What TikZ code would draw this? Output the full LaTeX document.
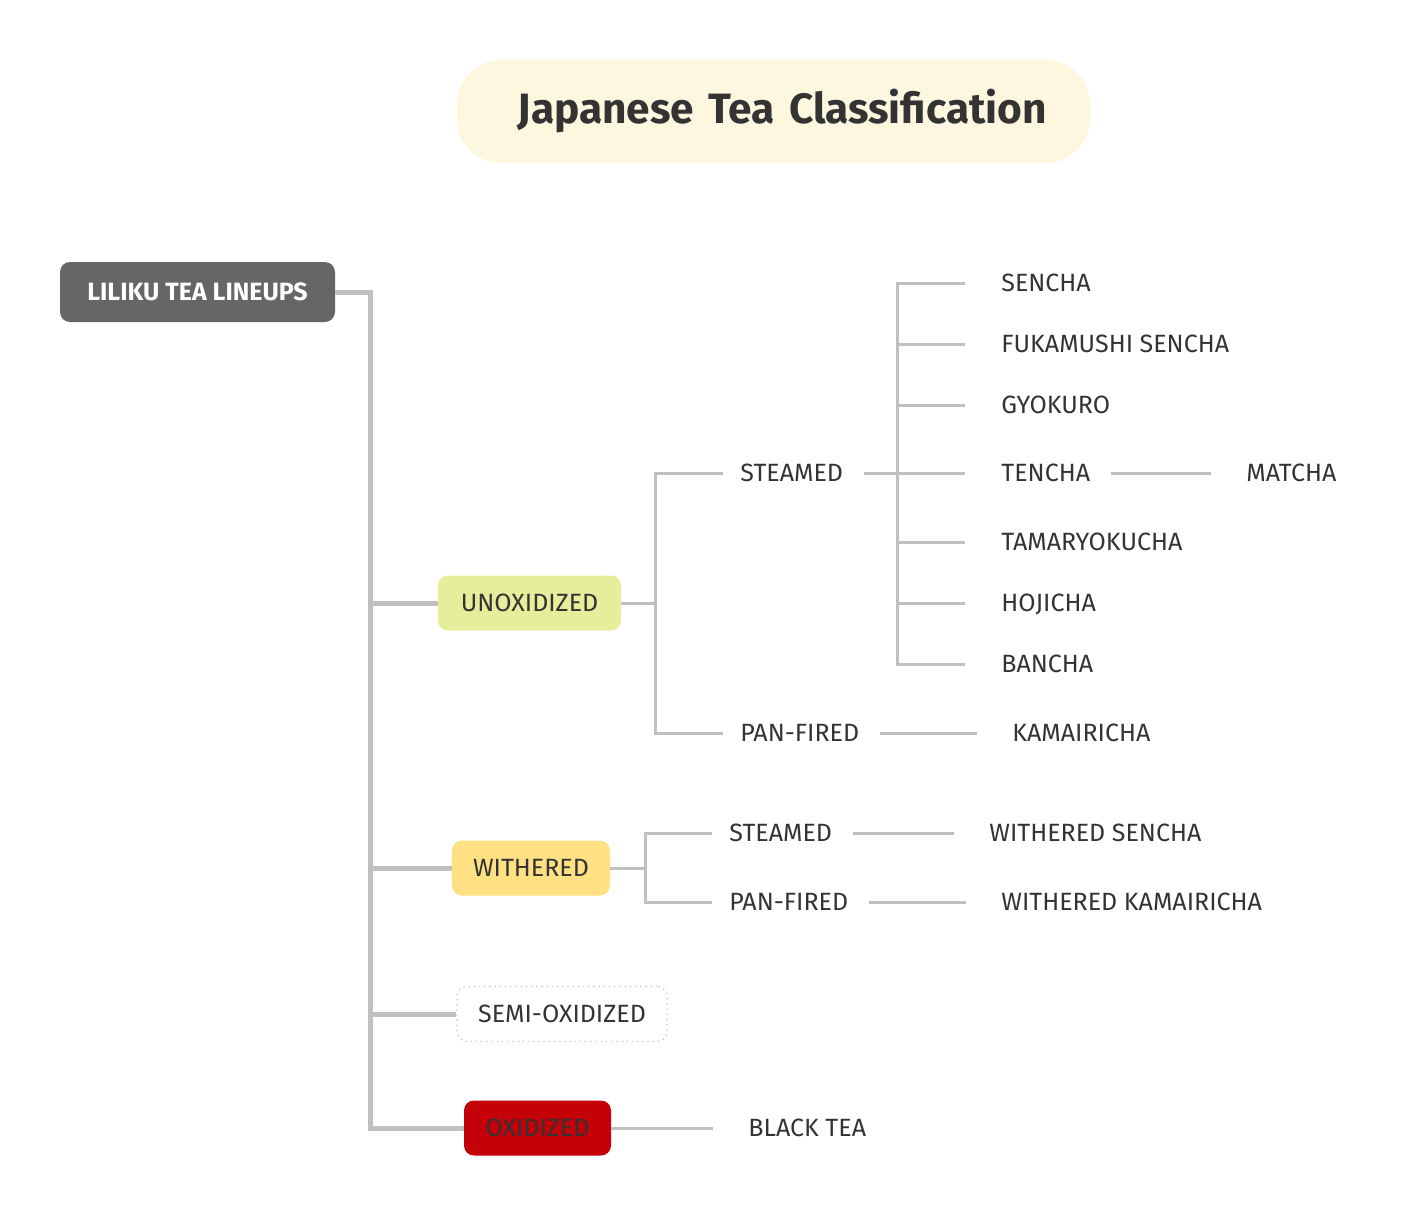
\documentclass[tikz,border=0pt]{standalone}
\usepackage{fontspec}
\setmainfont{Fira Sans}
\usetikzlibrary{positioning}
\definecolor{inkgray}{RGB}{51,51,51}
\definecolor{linegray}{RGB}{192,192,192}
\definecolor{titlebg}{RGB}{254,247,224}
\definecolor{rootgray}{RGB}{102,102,102}
\definecolor{unoxgreen}{RGB}{230,238,156}
\definecolor{withyellow}{RGB}{255,224,131}
\definecolor{oxred}{RGB}{196,0,8}
\newcommand{\teafont}{\fontsize{12.5}{14}\selectfont}
\tikzstyle{cbox}=[rectangle, rounded corners=5pt, font=\teafont,
  text=inkgray, minimum height=27.5pt, inner sep=0pt]
\tikzstyle{mid}=[font=\teafont, text=inkgray, anchor=west,
  inner xsep=8.5pt, inner ysep=0pt, text height=8.6pt, text depth=0pt]
\tikzstyle{leaf}=[font=\teafont, text=inkgray, anchor=west,
  inner sep=0pt, text height=8.6pt, text depth=0pt]
\tikzstyle{trunk}=[draw=linegray, line width=2.5pt]
\tikzstyle{br}=[draw=linegray, line width=1.5pt]

\begin{document}
\begin{tikzpicture}[x=0.5pt, y=-0.5pt]
  \useasboundingbox (0,0) rectangle (1420,1216);
  % title
  \node[rectangle, rounded corners=22pt, fill=titlebg, text=inkgray,
    text width=273.5pt, align=right, inner xsep=21.5pt,
    minimum height=51.5pt, font=\fontsize{21.2}{24}\selectfont\bfseries]
    (title) at (773.5,111.5) {Japanese Tea Classification};
  % first level
  \node[cbox, fill=rootgray, text=white, font=\teafont\bfseries,
    minimum width=137.5pt, minimum height=30pt] (root) at (197.5,292) {LILIKU TEA LINEUPS};
  \node[cbox, fill=unoxgreen, minimum width=91.5pt] (unox) at (529.5,603) {UNOXIDIZED};
  \node[cbox, fill=withyellow, minimum width=79pt] (with) at (531,868) {WITHERED};
  \node[cbox, fill=white, draw=linegray, dotted, line width=0.6pt,
    minimum width=105pt] (semi) at (562,1014) {SEMI-OXIDIZED};
  \node[cbox, fill=oxred, minimum width=73.5pt] (oxi) at (537.5,1128) {OXIDIZED};
  \coordinate (tk) at (370,0);
  \foreach \n in {unox,with,semi,oxi}
    \draw[trunk] (root.east) -| (tk |- \n.west) -- (\n.west);
  % unoxidized
  \node[mid] (steam1) at (723,473) {STEAMED};
  \node[mid] (pan1) at (723,733) {PAN-FIRED};
  \coordinate (ubus) at (655,603);
  \draw[br] (unox.east) -- (ubus);
  \draw[br] (ubus) |- (steam1.west);
  \draw[br] (ubus) |- (pan1.west);
  \node[leaf] (sencha) at (1001,283) {SENCHA};
  \node[leaf] (fuka) at (1001,344) {FUKAMUSHI SENCHA};
  \node[leaf] (gyok) at (1001,405) {GYOKURO};
  \node[leaf] (tench) at (1001,473) {TENCHA};
  \node[leaf] (tama) at (1001,542) {TAMARYOKUCHA};
  \node[leaf] (hoji) at (1001,603) {HOJICHA};
  \node[leaf] (banch) at (1001,664) {BANCHA};
  \node[leaf] (matcha) at (1246,473) {MATCHA};
  \node[leaf] (kama) at (1012,733) {KAMAIRICHA};
  \coordinate (sbus) at (897,473);
  \draw[br] ([xshift=2pt]steam1.east) -- (sbus);
  \foreach \n in {sencha,fuka,gyok,tench,tama,hoji,banch}
    \draw[br] (sbus) |- ([xshift=-18pt]\n.west);
  \draw[br] ([xshift=10pt]tench.east) -- ([xshift=-17.5pt]matcha.west);
  \draw[br] ([xshift=1.5pt]pan1.east) -- ([xshift=-17.5pt]kama.west);
  % withered
  \node[mid] (steam2) at (712,833) {STEAMED};
  \node[mid] (pan2) at (712,902) {PAN-FIRED};
  \coordinate (wbus) at (645,868);
  \draw[br] (with.east) -- (wbus);
  \draw[br] (wbus) |- (steam2.west);
  \draw[br] (wbus) |- (pan2.west);
  \node[leaf] (wsen) at (989,833) {WITHERED SENCHA};
  \node[leaf] (wkam) at (1001,902) {WITHERED KAMAIRICHA};
  \draw[br] ([xshift=2pt]steam2.east) -- ([xshift=-17.5pt]wsen.west);
  \draw[br] ([xshift=1.5pt]pan2.east) -- ([xshift=-17.5pt]wkam.west);
  % oxidized
  \node[leaf] (black) at (748,1128) {BLACK TEA};
  \draw[br] (oxi.east) -- ([xshift=-17.5pt]black.west);
\end{tikzpicture}
\end{document}
